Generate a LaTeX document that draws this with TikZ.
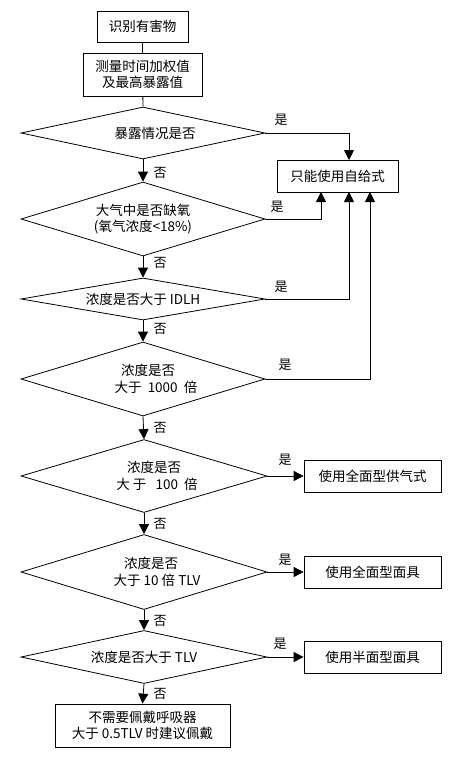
\documentclass[tikz,border=0pt]{standalone}
\usepackage{fontspec}
\setmainfont{Noto Sans CJK SC}
\usetikzlibrary{shapes.geometric,arrows.meta}
\begin{document}
\begin{tikzpicture}[x=1pt,y=-1pt,
  font=\fontsize{13.5}{16.5}\selectfont,
  box/.style={draw, line width=0.8pt, inner sep=0pt, align=center},
  dia/.style={draw, diamond, line width=0.8pt, inner sep=0pt, align=center},
  lbl/.style={inner sep=0pt, font=\fontsize{13}{14}\selectfont},
  arr/.style={line width=0.8pt, -{Triangle[length=10pt,width=10pt]}},
  ln/.style={line width=0.8pt}]
\useasboundingbox[fill=white] (0,0) rectangle (470,771);

% boxes
\node[box, minimum width=91pt, minimum height=31pt] (b1) at (142.5,26.5) {识别有害物};
\node[box, minimum width=119pt, minimum height=43pt] (b2) at (142.5,74.5) {测量时间加权值\\及最高暴露值};
\node[box, minimum width=121pt, minimum height=32pt] (s) at (337.5,176) {只能使用自给式};
\node[box, minimum width=137pt, minimum height=32pt] (f1) at (372.5,476) {使用全面型供气式};
\node[box, minimum width=137pt, minimum height=32pt] (f2) at (372.5,572) {使用全面型面具};
\node[box, minimum width=137pt, minimum height=32pt] (f3) at (372.5,657) {使用半面型面具};
\node[box, minimum width=175pt, minimum height=43pt] (e) at (142.5,725.5) {不需要佩戴呼吸器\\大于 0.5TLV 时建议佩戴};

% diamonds
\node[dia, minimum width=244pt, minimum height=52pt, aspect=4.69] (d1) at (143,133) {\hspace*{24pt}暴露情况是否};
\node[dia, minimum width=244pt, minimum height=74pt, aspect=3.3] (d2) at (143,219) {大气中是否缺氧\\(氧气浓度<18\%)};
\node[dia, minimum width=244pt, minimum height=42pt, aspect=5.8] (d3) at (143,299) {浓度是否大于 IDLH};
\node[dia, minimum width=244pt, minimum height=74pt, aspect=3.3] (d4) at (143,379) {\hspace*{10pt}浓度是否\\\hspace*{26pt}大于\ \ 1000\ \ 倍};
\node[dia, minimum width=246pt, minimum height=73pt, aspect=3.37] (d5) at (144,476) {\hspace*{20pt}浓度是否\\\hspace*{26pt}大\ 于\ \ \ 100\ \ 倍};
\node[dia, minimum width=246pt, minimum height=75pt, aspect=3.28] (d6) at (144,572) {\hspace*{14pt}浓度是否\\\hspace*{26pt}大于 10 倍 TLV};
\node[dia, minimum width=246pt, minimum height=53pt, aspect=4.64] (d7) at (144,657) {浓度是否大于 TLV};

% entry points on the self-contained box
\coordinate (st) at (349,160);
\coordinate (sb1) at (321,192);
\coordinate (sb2) at (349,192);
\coordinate (sb3) at (370,192);

% main flow
\draw[ln] (b1) -- (b2);
\draw[ln] (b2) -- (d1.north);
\draw[arr] (d1.south) -- (d2.north);
\draw[arr] (d2.south) -- (d3.north);
\draw[arr] (d3.south) -- (d4.north);
\draw[arr] (d4.south) -- (d5.north);
\draw[arr] (d5.south) -- (d6.north);
\draw[arr] (d6.south) -- (d7.north);
\draw[arr] (d7.south) -- (e.north);

% yes branches
\draw[arr] (d1.east) -| (st);
\draw[arr] (d2.east) -| (sb1);
\draw[arr] (d3.east) -| (sb2);
\draw[arr] (d4.east) -| (sb3);
\draw[arr] (d5.east) -- (d5.east -| f1.west);
\draw[arr] (d6.east) -- (d6.east -| f2.west);
\draw[arr] (d7.east) -- (d7.east -| f3.west);

% labels
\node[lbl] (y1) at (281,120) {是};
\node[lbl] (y2) at (277,207) {是};
\node[lbl] (y3) at (281,287) {是};
\node[lbl] (y4) at (285,365) {是};
\node[lbl] (y5) at (285,460) {是};
\node[lbl] (y6) at (285,560) {是};
\node[lbl] (y7) at (280,644) {是};
\node[lbl] (n1) at (160,173) {否};
\node[lbl] (n2) at (160,263) {否};
\node[lbl] (n3) at (160,329) {否};
\node[lbl] (n4) at (160,428) {否};
\node[lbl] (n5) at (160,524) {否};
\node[lbl] (n6) at (160,621) {否};
\node[lbl] (n7) at (160,694) {否};
\end{tikzpicture}
\end{document}
